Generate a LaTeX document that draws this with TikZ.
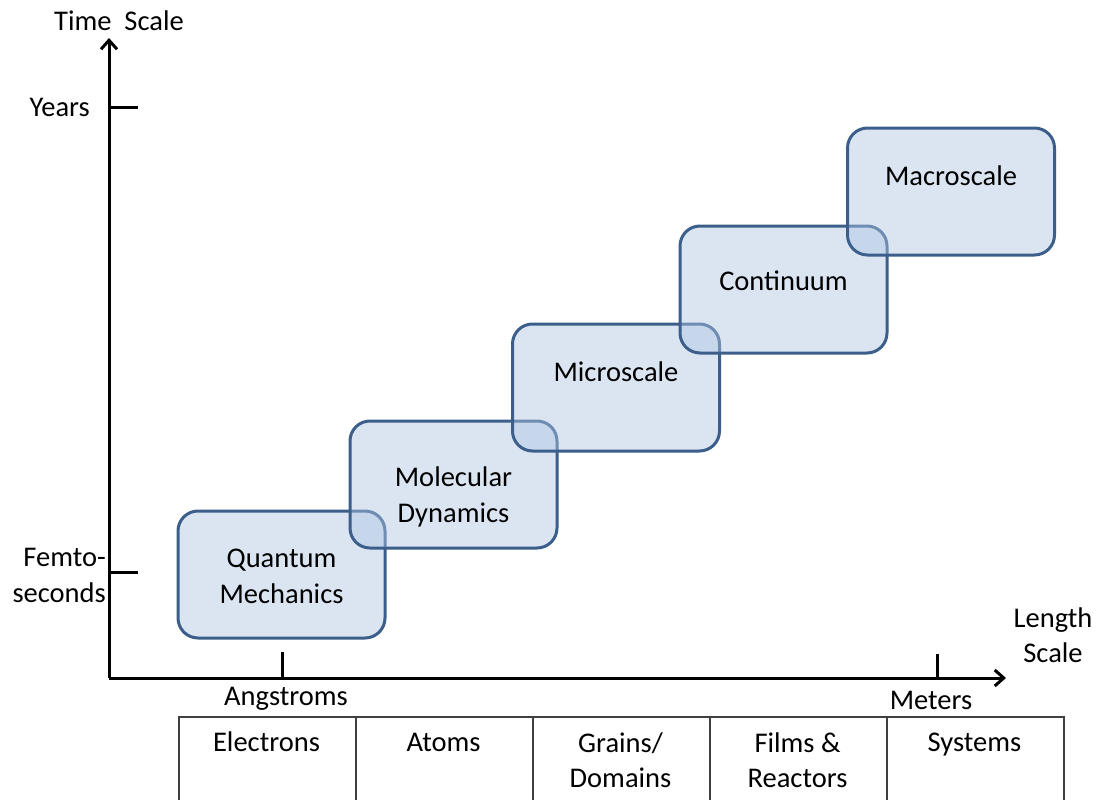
\documentclass[tikz,border=0pt]{standalone}
\usepackage{fontspec}
\setmainfont{Carlito}
\usetikzlibrary{arrows.meta}
\definecolor{edgeblue}{RGB}{59,94,139}
\definecolor{fillblue}{RGB}{175,198,226}
\definecolor{gridgray}{RGB}{64,64,64}
\tikzset{
  scalebox/.style={draw=edgeblue, line width=3pt, fill=fillblue, fill opacity=0.45,
    rounded corners=20pt, minimum width=207pt, minimum height=127pt, inner sep=0pt},
  lbl/.style={font=\fontsize{28.5}{36}\selectfont, inner sep=0pt, anchor=base},
  axis/.style={line width=3pt, -{Straight Barb[length=9pt,width=16pt]}},
  tickmark/.style={line width=3pt},
  cell/.style={draw=gridgray, line width=1.5pt, minimum width=177pt, minimum height=90pt,
    inner sep=0pt, anchor=north west},
}
\begin{document}
\begin{tikzpicture}[x=1pt,y=-1pt]
\useasboundingbox (0,0) rectangle (1101,800);
\clip (0,0) rectangle (1101,800);

% axes
\coordinate (origin) at (109,678);
\coordinate (ytop) at (109,38);
\coordinate (xend) at (1006,678);
\draw[axis] (origin) -- (ytop);
\draw[axis] (origin) -- (xend);

% tick marks
\coordinate (yearsA) at (109,107);  \coordinate (yearsB) at (138,107);
\coordinate (femtoA) at (109,572);  \coordinate (femtoB) at (138,572);
\coordinate (angA) at (282,678);    \coordinate (angB) at (282,652);
\coordinate (metA) at (937,678);    \coordinate (metB) at (937,654);
\draw[tickmark] (yearsA) -- (yearsB);
\draw[tickmark] (femtoA) -- (femtoB);
\draw[tickmark] (angA) -- (angB);
\draw[tickmark] (metA) -- (metB);

% axis labels
\node[lbl] (tscale) at (119,31) {Time\ \ Scale};
\node[lbl, anchor=base east] (years) at (90,116) {Years};
\node[lbl, anchor=base east] (femto) at (106,566) {Femto-};
\node[lbl, anchor=base east] (secs) at (106,602) {seconds};
\node[lbl] (angs) at (286,705) {Angstroms};
\node[lbl] (meters) at (931,709) {Meters};
\node[lbl] (length) at (1053,627) {Length};
\node[lbl] (lscale) at (1053,662) {Scale};

% modelling scales, each later box lying over the previous one
\node[scalebox] (qm) at (281.5,574.5) {};
\node[scalebox] (md) at (453.5,484.5) {};
\node[scalebox] (ms) at (616,387.5) {};
\node[scalebox] (co) at (783.5,289.5) {};
\node[scalebox] (ma) at (951,191.5) {};

\node[lbl] (qmA) at (281.5,567) {Quantum};
\node[lbl] (qmB) at (281.5,603) {Mechanics};
\node[lbl] (mdA) at (453.5,486) {Molecular};
\node[lbl] (mdB) at (453.5,522) {Dynamics};
\node[lbl] (msT) at (616,381) {Microscale};
\node[lbl] (coT) at (783.5,290) {Continuum};
\node[lbl] (maT) at (951,185) {Macroscale};

% table of physical entities
\node[cell] (c1) at (178,716) {};
\node[cell] (c2) at (355,716) {};
\node[cell] (c3) at (532,716) {};
\node[cell] (c4) at (709,716) {};
\node[cell] (c5) at (886,716) {};

\node[lbl] (t1) at (266.5,751) {Electrons};
\node[lbl] (t2) at (443.5,751) {Atoms};
\node[lbl] (t3a) at (620.5,752) {Grains/};
\node[lbl] (t3b) at (620.5,787) {Domains};
\node[lbl] (t4a) at (797.5,752) {Films \&};
\node[lbl] (t4b) at (797.5,787) {Reactors};
\node[lbl] (t5) at (974.5,751) {Systems};
\end{tikzpicture}
\end{document}
